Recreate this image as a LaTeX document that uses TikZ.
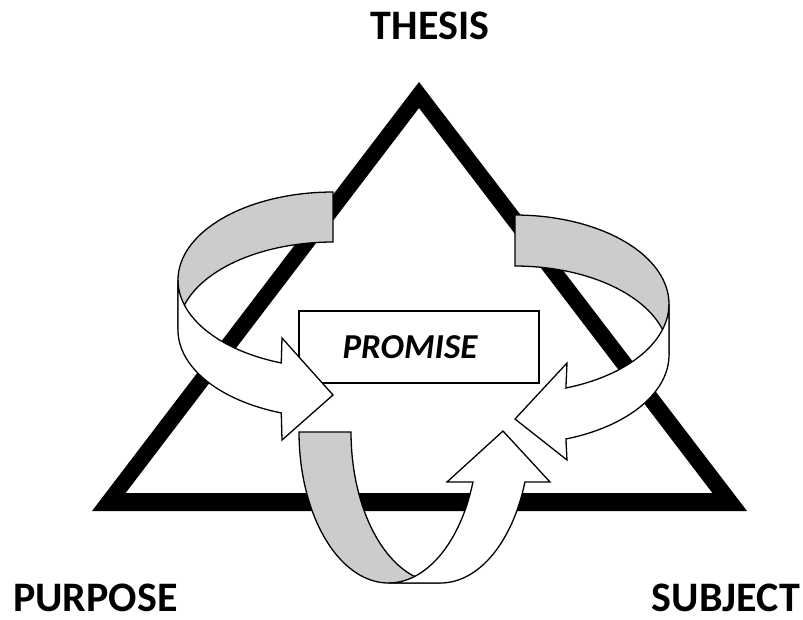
\documentclass[tikz,border=0pt]{standalone}
\usepackage{fontspec}
\setmainfont{Carlito}
\begin{document}
\begin{tikzpicture}[x=1pt,y=-1pt,
  band/.style={draw=black,line width=1.3pt,line join=miter},
  backband/.style={band,fill=black!20},
  frontband/.style={band,fill=white},
  lbl/.style={font=\fontsize{42}{42}\selectfont\bfseries,inner sep=0pt},
  promisebox/.style={draw=black,line width=1.3pt,fill=white,minimum width=240pt,minimum height=72pt,inner sep=0pt}]
\useasboundingbox (0,0) rectangle (803,619);
% triangle
\fill[black,even odd rule] (419,82) -- (92,511) -- (747,511) -- cycle
  (419,108) -- (125.6,493) -- (712.4,493) -- cycle;
% promise box
\node[promisebox] (box) at (419,347) {};
\node[font=\fontsize{35}{35}\selectfont\bfseries\itshape,inner sep=0pt,anchor=base] (promise) at (410,358) {PROMISE};
% left arrow
\draw[backband] plot[domain=90:180,samples=40,variable=\t] ({333+155*cos(\t)},{280-88*sin(\t)})
  -- (178,330)
  -- plot[domain=180:90,samples=40,variable=\t] ({333+155*cos(\t)},{330-88*sin(\t)}) -- cycle;
\draw[frontband] plot[domain=180:250.5,samples=40,variable=\t] ({333+155*cos(\t)},{280-88*sin(\t)})
  -- (282,338) -- (333,395) -- (282,440)
  -- plot[domain=250.5:180,samples=40,variable=\t] ({333+155*cos(\t)},{330-88*sin(\t)}) -- cycle;
% right arrow
\draw[backband] plot[domain=90:0,samples=40,variable=\t] ({515+154*cos(\t)},{304-89*sin(\t)})
  -- (669,355)
  -- plot[domain=0:90,samples=40,variable=\t] ({515+154*cos(\t)},{355-89*sin(\t)}) -- cycle;
\draw[frontband] plot[domain=0:-70.7,samples=40,variable=\t] ({515+154*cos(\t)},{304-89*sin(\t)})
  -- (567,363) -- (515,419) -- (567,460)
  -- plot[domain=-70.7:0,samples=40,variable=\t] ({515+154*cos(\t)},{355-89*sin(\t)}) -- cycle;
% bottom arrow
\draw[backband] plot[domain=180:270,samples=40,variable=\t] ({388.5+89.5*cos(\t)},{432-151*sin(\t)})
  -- (440.5,583)
  -- plot[domain=270:180,samples=40,variable=\t] ({440.5+89.5*cos(\t)},{432-151*sin(\t)}) -- cycle;
\draw[frontband] plot[domain=270:340.7,samples=40,variable=\t] ({388.5+89.5*cos(\t)},{432-151*sin(\t)})
  -- (447,482) -- (503,431) -- (550,482)
  -- plot[domain=340.7:270,samples=40,variable=\t] ({440.5+89.5*cos(\t)},{432-151*sin(\t)}) -- cycle;
% labels
\node[lbl,anchor=base] (thesis) at (430,39) {THESIS};
\node[lbl,anchor=base west] (purpose) at (13,611) {PURPOSE};
\node[lbl,anchor=base east] (subject) at (800,611) {SUBJECT};
\end{tikzpicture}
\end{document}
